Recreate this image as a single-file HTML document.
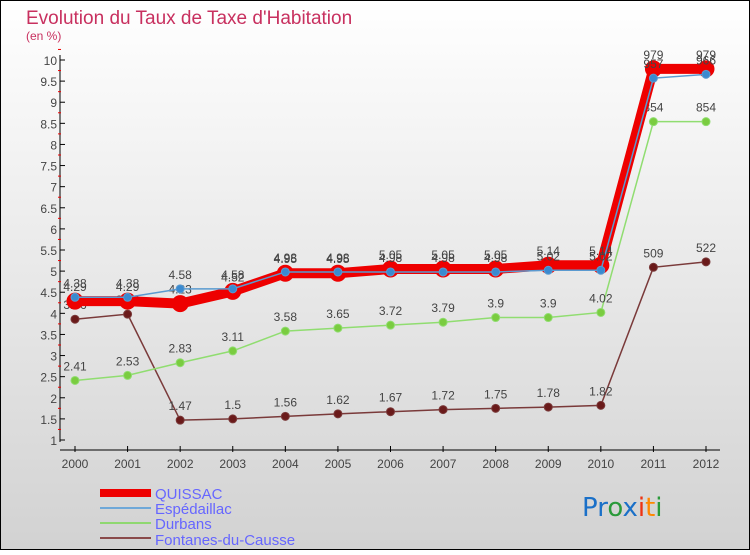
<!DOCTYPE html>
<html><head><meta charset="utf-8"><style>
body{margin:0}
#c{width:750px;height:550px;position:relative;font-family:"Liberation Sans",sans-serif}
</style></head><body>
<div id="c">
<svg id="s" width="750" height="550" xmlns="http://www.w3.org/2000/svg" font-family="Liberation Sans, sans-serif">
<defs><linearGradient id="bg" x1="0" y1="0" x2="0" y2="1"><stop offset="0" stop-color="#ffffff"/><stop offset="1" stop-color="#d2d2d2"/></linearGradient></defs>
<rect x="0.5" y="0.5" width="749" height="549" fill="url(#bg)" stroke="#000"/>
<text x="26" y="24" font-size="19" fill="#c8305f">Evolution du Taux de Taxe d'Habitation</text>
<text x="26" y="40" font-size="12" fill="#c8305f">(en %)</text>
<g id="axes"></g><g id="series"></g>
<g>
<rect x="100" y="489" width="51" height="8" fill="#ee0000"/>
<text x="155" y="499" font-size="15" fill="#6666ff">QUISSAC</text>
<rect x="100" y="507" width="51" height="2" fill="#6fa8d8"/>
<text x="155" y="514" font-size="15" fill="#6666ff">Espédaillac</text>
<rect x="100" y="522" width="51" height="2" fill="#8fd870"/>
<text x="155" y="529" font-size="15" fill="#6666ff">Durbans</text>
<rect x="100" y="537" width="51" height="2" fill="#8a4a4a"/>
<text x="155" y="545" font-size="15" fill="#6666ff">Fontanes-du-Causse</text>
</g>
<g font-size="26" font-family="DejaVu Sans, sans-serif">
<text x="582" y="516"><tspan fill="#1a70c8">Pr</tspan><tspan fill="#2a9a3a">o</tspan><tspan fill="#1a70c8">x</tspan><tspan fill="#ee3311">i</tspan><tspan fill="#ff8800">t</tspan><tspan fill="#2a9a3a">i</tspan></text>
</g>
</svg>
</div>
<script>
const years=[2000,2001,2002,2003,2004,2005,2006,2007,2008,2009,2010,2011,2012];
const quissac=[4.29,4.29,4.23,4.52,4.95,4.95,5.05,5.05,5.05,5.14,5.14,9.79,9.79];
const espedaillac=[4.38,4.38,4.58,4.58,4.98,4.98,4.98,4.98,4.98,5.02,5.02,9.57,9.66];
const durbans=[2.41,2.53,2.83,3.11,3.58,3.65,3.72,3.79,3.9,3.9,4.02,8.54,8.54];
const fontanes=[3.86,3.98,1.47,1.5,1.56,1.62,1.67,1.72,1.75,1.78,1.82,5.09,5.22];
const yTicks=[1,1.5,2,2.5,3,3.5,4,4.5,5,5.5,6,6.5,7,7.5,8,8.5,9,9.5,10];
const NS='http://www.w3.org/2000/svg';
const x=i=>75+i*(706-75)/(years.length-1);
const y=v=>440-(v-1)*(380/9);
const ax=document.getElementById('axes'),sg=document.getElementById('series');
function mk(t,a,p){const e=document.createElementNS(NS,t);for(const k in a)e.setAttribute(k,a[k]);p.appendChild(e);return e;}
let e=mk('line',{x1:60,y1:55,x2:60,y2:442,stroke:'#000'},ax);


e=mk('line',{x1:60,y1:450,x2:720,y2:450,stroke:'#000'},ax);


yTicks.forEach(v=>{mk('line',{x1:60,y1:y(v),x2:65,y2:y(v),stroke:'#000'},ax);
 mk('line',{x1:58,y1:y(v+0.25),x2:61,y2:y(v+0.25),stroke:'#e00'},ax);
 const t=mk('text',{x:57,y:y(v)+5,'font-size':12,'text-anchor':'end',fill:'#444'},ax);t.textContent=String(v);
 
 });
years.forEach((yr,i)=>{mk('line',{x1:x(i),y1:446,x2:x(i),y2:452,stroke:'#000'},ax);
 const t=mk('text',{x:x(i),y:468,'font-size':12,'text-anchor':'middle',fill:'#444'},ax);t.textContent=yr;
 
 });
function draw(data,color,w,r,dot,name,labels){
 const pl=mk('polyline',{points:data.map((v,i)=>x(i)+','+y(v)).join(' '),fill:'none',stroke:color,'stroke-width':w},sg);
 
 
 data.forEach((v,i)=>{const c=mk('circle',{cx:x(i),cy:y(v),r:r,fill:dot,stroke:color,'stroke-width':1},sg);
  
  
  if(labels){const t=mk('text',{x:x(i),y:y(v)-10,'font-size':12,'text-anchor':'middle',fill:'#444'},sg);t.textContent=String(v).replace(/^(\d)\.(\d\d)$/,(m,a,b)=>i>=11?a+b:m);
  
  }});
}
draw(fontanes,'#7a3a3a',1.5,4,'#6a1a1a','fontanes',true);
draw(durbans,'#90dd70',1.5,4,'#7acc40','durbans',true);
draw(quissac,'#ee0000',10,8,'#ee0000','quissac',true);
draw(espedaillac,'#5a9ad0',1.5,4,'#3a8ad0','espedaillac',true);
</script>
</body></html>
